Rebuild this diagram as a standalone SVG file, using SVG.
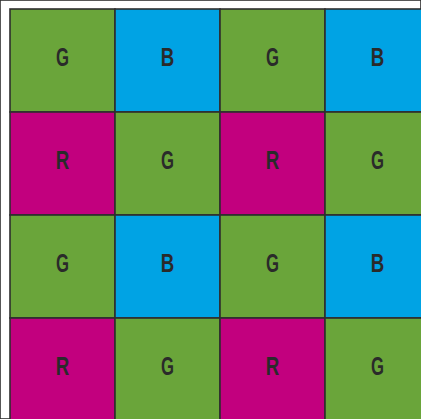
<svg xmlns="http://www.w3.org/2000/svg" width="421" height="419" viewBox="0 0 421 419">
<style>
.g{fill:#6aa53a}.b{fill:#00a3e4}.r{fill:#c2007e}
rect{stroke:#2e2e2e;stroke-width:1.6}
text{font-family:"Liberation Sans Narrow","Liberation Sans",sans-serif;font-weight:bold;font-size:25px;fill:#2a2a2a;text-anchor:middle}
</style>
<rect width="421" height="419" fill="#fff" stroke="none"/>
<g id="cells">
<g id="c00"><rect class="g" x="10" y="9" width="105" height="103"/><text x="62.5" y="66" textLength="13" lengthAdjust="spacingAndGlyphs">G</text></g>
<g id="c01"><rect class="b" x="115" y="9" width="105" height="103"/><text x="167.5" y="66" textLength="13.5" lengthAdjust="spacingAndGlyphs">B</text></g>
<g id="c02"><rect class="g" x="220" y="9" width="105" height="103"/><text x="272.5" y="66" textLength="13" lengthAdjust="spacingAndGlyphs">G</text></g>
<g id="c03"><rect class="b" x="325" y="9" width="105" height="103"/><text x="377.5" y="66" textLength="13.5" lengthAdjust="spacingAndGlyphs">B</text></g>

<g id="c10"><rect class="r" x="10" y="112" width="105" height="103"/><text x="62.5" y="169" textLength="13.5" lengthAdjust="spacingAndGlyphs">R</text></g>
<g id="c11"><rect class="g" x="115" y="112" width="105" height="103"/><text x="167.5" y="169" textLength="13" lengthAdjust="spacingAndGlyphs">G</text></g>
<g id="c12"><rect class="r" x="220" y="112" width="105" height="103"/><text x="272.5" y="169" textLength="13.5" lengthAdjust="spacingAndGlyphs">R</text></g>
<g id="c13"><rect class="g" x="325" y="112" width="105" height="103"/><text x="377.5" y="169" textLength="13" lengthAdjust="spacingAndGlyphs">G</text></g>

<g id="c20"><rect class="g" x="10" y="215" width="105" height="103"/><text x="62.5" y="272" textLength="13" lengthAdjust="spacingAndGlyphs">G</text></g>
<g id="c21"><rect class="b" x="115" y="215" width="105" height="103"/><text x="167.5" y="272" textLength="13.5" lengthAdjust="spacingAndGlyphs">B</text></g>
<g id="c22"><rect class="g" x="220" y="215" width="105" height="103"/><text x="272.5" y="272" textLength="13" lengthAdjust="spacingAndGlyphs">G</text></g>
<g id="c23"><rect class="b" x="325" y="215" width="105" height="103"/><text x="377.5" y="272" textLength="13.5" lengthAdjust="spacingAndGlyphs">B</text></g>

<g id="c30"><rect class="r" x="10" y="318" width="105" height="103"/><text x="62.5" y="375" textLength="13.5" lengthAdjust="spacingAndGlyphs">R</text></g>
<g id="c31"><rect class="g" x="115" y="318" width="105" height="103"/><text x="167.5" y="375" textLength="13" lengthAdjust="spacingAndGlyphs">G</text></g>
<g id="c32"><rect class="r" x="220" y="318" width="105" height="103"/><text x="272.5" y="375" textLength="13.5" lengthAdjust="spacingAndGlyphs">R</text></g>
<g id="c33"><rect class="g" x="325" y="318" width="105" height="103"/><text x="377.5" y="375" textLength="13" lengthAdjust="spacingAndGlyphs">G</text></g>
</g>
</svg>
